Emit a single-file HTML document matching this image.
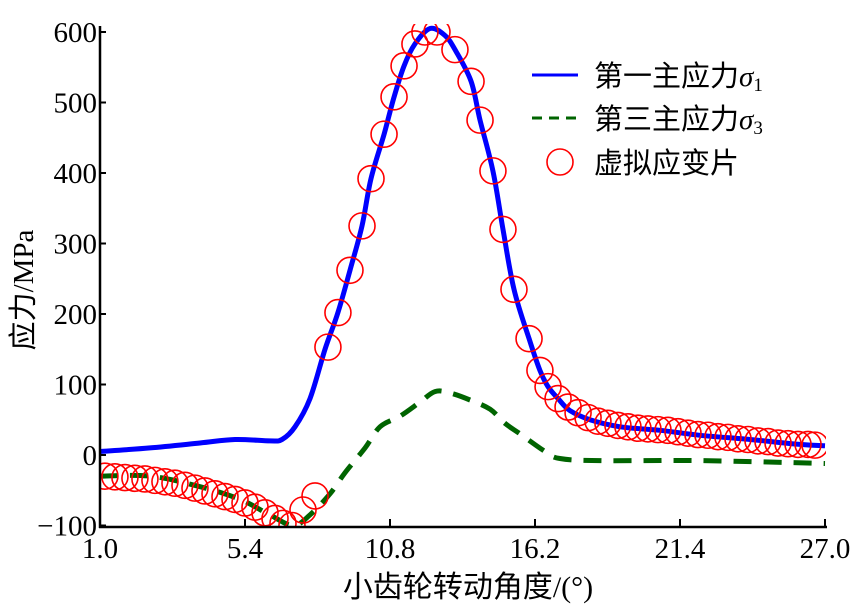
<!DOCTYPE html>
<html><head><meta charset="utf-8">
<style>
html,body{margin:0;padding:0;background:#fff;}
svg{display:block;}
text{font-family:"Liberation Serif","Noto Serif CJK SC",serif;fill:#000;}
.cjk{font-family:"Liberation Serif","Noto Sans CJK SC",sans-serif;}
</style></head>
<body>
<svg id="chart" width="850" height="614" viewBox="0 0 850 614">
<defs><clipPath id="plotclip"><rect x="100" y="24" width="726" height="503"/></clipPath></defs>
<g id="series-layer" clip-path="url(#plotclip)"></g>
<g id="axis-layer"></g>
<g id="legend">
  <line x1="532" y1="75" x2="578" y2="75" stroke="#0000ff" stroke-width="3"/>
  <text x="594" y="86" font-size="29" class="cjk">第一主应力<tspan font-style="italic" font-family="Liberation Serif">σ</tspan><tspan font-size="19" dy="5" font-family="Liberation Serif">1</tspan></text>
  <line x1="532" y1="118" x2="580" y2="118" stroke="#006400" stroke-width="3" stroke-dasharray="10,7"/>
  <text x="594" y="129" font-size="29" class="cjk">第三主应力<tspan font-style="italic" font-family="Liberation Serif">σ</tspan><tspan font-size="19" dy="5" font-family="Liberation Serif">3</tspan></text>
  <circle cx="560" cy="162" r="13" fill="none" stroke="#ff0000" stroke-width="1.6"/>
  <text x="594" y="173" font-size="29" class="cjk">虚拟应变片</text>
</g>
<text x="0" y="0" font-size="29" class="cjk" text-anchor="middle" transform="translate(33,290) rotate(-90)">应力/MPa</text>
<text x="468" y="597" font-size="30" class="cjk" text-anchor="middle">小齿轮转动角度/(°)</text>
</svg>
<script>
// x data expressed in tick-slot units (0 = first tick label, 5 = last)
const xTickLabels = ["1.0","5.4","10.8","16.2","21.4","27.0"];
const yTickValues = [-100,0,100,200,300,400,500,600];
const sigma1X = [0,0.345,0.69,0.931,1.172,1.255,1.345,1.448,1.552,1.641,1.724,1.807,1.869,1.959,2.028,2.097,2.172,2.276,2.379,2.448,2.559,2.621,2.710,2.779,2.855,2.959,3.034,3.090,3.159,3.241,3.379,3.586,3.862,4.138,4.483,4.828,5.0];
const sigma1Y = [5,10,17,22,20,22,40,80,150,202,262,325,392,455,508,552,583,605,595,575,530,475,403,320,235,165,120,97,80,63,50,40,35,28,22,15,13];
const sigma3X = [0,0.345,0.69,0.966,1.172,1.331,1.448,1.586,1.690,1.828,1.931,2.069,2.207,2.310,2.414,2.552,2.690,2.793,2.897,3.069,3.172,3.448,4.138,5.0];
const sigma3Y = [-30,-30,-45,-63,-85,-100,-85,-55,-25,10,40,55,75,90,88,78,65,45,30,5,-5,-8,-8,-12];
const gaugeX = [0.034,0.103,0.172,0.241,0.310,0.379,0.448,0.517,0.586,0.655,0.724,0.793,0.862,0.931,1.0,1.069,1.138,1.207,1.262,1.324,1.400,1.483,
 1.572,1.641,1.724,1.807,1.869,1.959,2.028,2.097,2.172,2.241,2.324,2.448,2.559,2.621,2.710,2.779,2.855,2.959,3.034,3.090,
 3.159,3.228,3.297,3.366,3.434,3.503,3.572,3.641,3.710,3.779,3.848,3.917,3.986,4.055,4.124,4.193,4.262,4.331,4.400,4.469,4.538,4.607,4.676,4.745,4.814,4.883,4.931];
const gaugeY = [-30,-31,-32,-33,-34,-36,-38,-40,-43,-47,-51,-55,-59,-63,-68,-74,-82,-90,-97,-100,-78,-58,
 153,202,262,325,392,455,508,552,583,600,600,575,530,475,403,320,235,165,120,97,
 80,68,60,53,48,45,42,40,38,37,36,35,33,31,29,28,26,25,23,22,20,19,17,16,15,15,14];

const NS="http://www.w3.org/2000/svg";
const X0=100,X1=825,Y0p=455,PXU=0.705,AXB=527;
function sx(u){return X0+u*(X1-X0)/(xTickLabels.length-1);}
function sy(v){return Y0p-v*PXU;}
function mk(tag,attrs,parent){const e=document.createElementNS(NS,tag);for(const k in attrs)e.setAttribute(k,attrs[k]);parent.appendChild(e);return e;}

const axis=document.getElementById('axis-layer');
const series=document.getElementById('series-layer');
let el;
el=mk('line',{x1:X0,y1:26,x2:X0,y2:AXB+1,stroke:'#000','stroke-width':2.5},axis);


el=mk('line',{x1:99,y1:AXB,x2:827,y2:AXB,stroke:'#000','stroke-width':2.5},axis);


xTickLabels.forEach((lab,i)=>{
  const x=sx(i);
  let t=mk('line',{x1:x,y1:AXB,x2:x,y2:AXB-8,stroke:'#000','stroke-width':2},axis);
  
  
  let tx=mk('text',{x:x,y:558,'font-size':29,'text-anchor':'middle'},axis);
  tx.textContent=lab;
  
  
});
yTickValues.forEach(v=>{
  const y=sy(v);
  let t=mk('line',{x1:100,y1:y,x2:106,y2:y,stroke:'#000','stroke-width':2},axis);
  
  
  let tx=mk('text',{x:97,y:y+10,'font-size':29,'text-anchor':'end'},axis);
  tx.textContent=(v<0?'\u2212'+(-v):String(v));
  
  
});
function smoothPath(xs,ys){
  const p=xs.map((x,i)=>[sx(x),sy(ys[i])]);
  let d='M'+p[0][0].toFixed(1)+','+p[0][1].toFixed(1);
  for(let i=0;i<p.length-1;i++){
    const p0=p[Math.max(0,i-1)],p1=p[i],p2=p[i+1],p3=p[Math.min(p.length-1,i+2)];
    const c1x=p1[0]+(p2[0]-p0[0])/6,c1y=p1[1]+(p2[1]-p0[1])/6;
    const c2x=p2[0]-(p3[0]-p1[0])/6,c2y=p2[1]-(p3[1]-p1[1])/6;
    d+='C'+c1x.toFixed(1)+','+c1y.toFixed(1)+' '+c2x.toFixed(1)+','+c2y.toFixed(1)+' '+p2[0].toFixed(1)+','+p2[1].toFixed(1);
  }
  return d;
}
el=mk('path',{d:smoothPath(sigma3X,sigma3Y),fill:'none',stroke:'#006400','stroke-width':5,'stroke-dasharray':'18,12'},series);


el=mk('path',{d:smoothPath(sigma1X,sigma1Y),fill:'none',stroke:'#0000ff','stroke-width':5,'stroke-linejoin':'round'},series);


for(let i=0;i<gaugeX.length;i++){
  const c=mk('circle',{cx:sx(gaugeX[i]),cy:sy(gaugeY[i]),r:13,fill:'none',stroke:'#ff0000','stroke-width':1.6},series);
  
  
}
</script>
</body></html>
